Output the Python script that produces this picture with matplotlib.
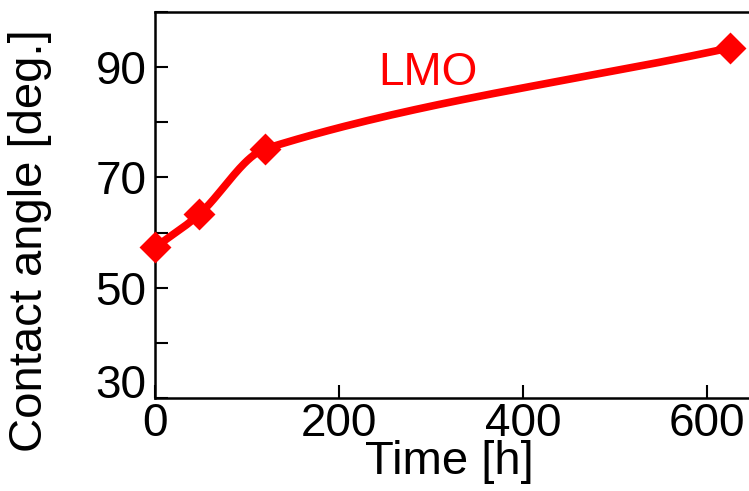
import numpy as np
import matplotlib
matplotlib.use("Agg")
import matplotlib.pyplot as plt
from matplotlib.ticker import FixedLocator

plt.rcParams["font.family"] = ["Liberation Sans", "DejaVu Sans"]

time_h = [0, 48, 120, 625]
angle_deg = [57.3, 63.3, 75.2, 93.5]

x_ticks = [0, 200, 400, 600]
y_ticks = [30, 50, 70, 90]
y_minor = [40, 60, 80, 100]

series_label = "LMO"
series_color = "#ff0000"


def smooth_curve(xs, ys, n=60):
    # cubic Hermite through the points, finite-difference slopes
    xs = np.asarray(xs, float)
    ys = np.asarray(ys, float)
    m = np.empty_like(ys)
    m[0] = (ys[1] - ys[0]) / (xs[1] - xs[0])
    m[-1] = (ys[-1] - ys[-2]) / (xs[-1] - xs[-2])
    m[1:-1] = (ys[2:] - ys[:-2]) / (xs[2:] - xs[:-2])
    out_x, out_y = [], []
    for i in range(len(xs) - 1):
        h = xs[i + 1] - xs[i]
        t = np.linspace(0, 1, n)
        h00 = 2 * t**3 - 3 * t**2 + 1
        h10 = t**3 - 2 * t**2 + t
        h01 = -2 * t**3 + 3 * t**2
        h11 = t**3 - t**2
        out_x.append(xs[i] + t * h)
        out_y.append(h00 * ys[i] + h10 * h * m[i] + h01 * ys[i + 1] + h11 * h * m[i + 1])
    return np.concatenate(out_x), np.concatenate(out_y)


W, H = 749, 491
fig = plt.figure(figsize=(W / 100, H / 100), dpi=100)
ax = fig.add_axes([155 / W, (H - 398) / H, 644 / W, 386 / H])

cx, cy = smooth_curve(time_h, angle_deg)
ax.plot(cx, cy, color=series_color, lw=5.5, solid_capstyle="round", zorder=3)
ax.plot(time_h, angle_deg, ls="none", marker="D", ms=14, color=series_color,
        mec=series_color, mew=2, zorder=4, clip_on=False)

ax.text(296.7, 86.7, series_label, color=series_color, fontsize=33,
        ha="center", va="baseline")

ax.set_xlim(0, 700)
ax.set_ylim(30, 100)
ax.xaxis.set_major_locator(FixedLocator(x_ticks))
ax.yaxis.set_major_locator(FixedLocator(y_ticks))
ax.yaxis.set_minor_locator(FixedLocator(y_minor))

ax.tick_params(axis="both", which="both", direction="in", length=9.5, width=1.5,
               labelsize=33, top=False, right=False)
ax.tick_params(axis="x", pad=3)
ax.tick_params(axis="y", pad=6)

for side in ["left", "bottom", "top", "right"]:
    ax.spines[side].set_linewidth(1.8)

ax.set_xlabel("Time [h]", fontsize=34)
ax.xaxis.set_label_coords((449 - 155) / 644, (398 - 474) / 386)
ax.xaxis.label.set_va("baseline")

ax.set_ylabel("Contact angle [deg.]", fontsize=34)
ax.yaxis.set_label_coords((30 - 155) / 644, (398 - 241) / 386)
ax.yaxis.label.set_va("center")

# lowest y label sits on the axis line
ax.get_yticklabels()[0].set_va("baseline")

fig.savefig("out.png", dpi=100)
